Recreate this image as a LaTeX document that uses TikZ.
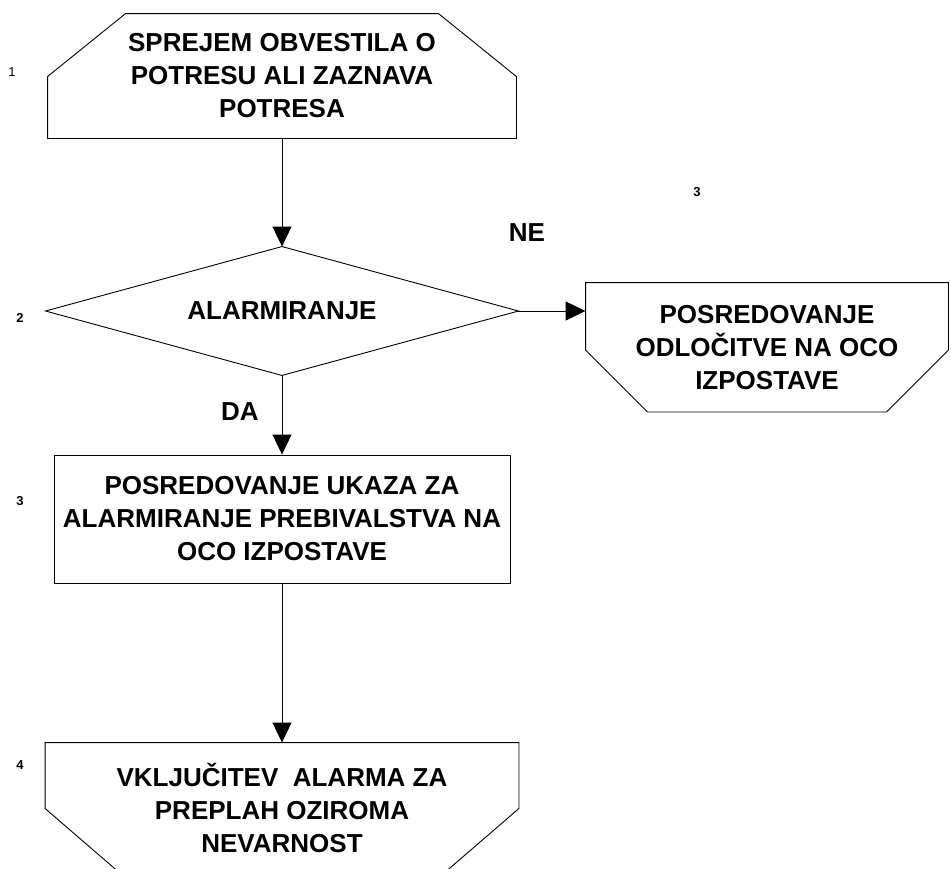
\documentclass[tikz,border=0pt]{standalone}
\usepackage{fontspec}
\setmainfont{Liberation Sans}
\usetikzlibrary{arrows.meta,calc}
\begin{document}
\begin{tikzpicture}[x=1pt,y=-1pt,line width=0.9pt,
  txt/.style={inner sep=0pt, align=center, font=\bfseries\fontsize{26}{33}\selectfont},
  lab/.style={inner sep=0pt, font=\bfseries\fontsize{13}{15}\selectfont},
  labthin/.style={inner sep=0pt, font=\fontsize{13}{15}\selectfont},
  arr/.style={-{Triangle[width=19pt,length=20pt]}}]
\useasboundingbox (0,0) rectangle (951,868);
\clip (0,0) rectangle (951,868);
% 1
\node[txt, minimum width=468pt, minimum height=126pt] (n1) at (282,76) {SPREJEM OBVESTILA O\\POTRESU ALI ZAZNAVA\\POTRESA};
\draw ($(n1.south west)+(0,-1)$) -- ($(n1.north west)+(0,64)$) -- ($(n1.north west)+(78,1)$) -- ($(n1.north east)+(-78,1)$) -- ($(n1.north east)+(0,64)$) -- ($(n1.south east)+(0,-1)$) -- cycle;
% 2
\node[txt, minimum width=472pt, minimum height=128pt] (d) at (282,311) {ALARMIRANJE};
\draw (d.west) -- (d.north) -- (d.east) -- (d.south) -- cycle;
% 3
\node[txt, draw, minimum width=456pt, minimum height=128pt] (r) at (282,519) {POSREDOVANJE UKAZA ZA\\ALARMIRANJE PREBIVALSTVA NA\\OCO IZPOSTAVE};
% right
\node[txt, minimum width=362pt, minimum height=127pt] (s) at (767,348) {POSREDOVANJE\\ODLOČITVE NA OCO\\IZPOSTAVE};
\draw ($(s.north west)+(0,-1.5)$) -- ($(s.north east)+(0,-1.5)$) -- ($(s.south east)+(0,-62)$) -- ($(s.south east)+(-62,0)$) -- ($(s.south west)+(62,0)$) -- ($(s.south west)+(0,-62)$) -- cycle;
% 4
\node[txt, minimum width=473pt, minimum height=126pt] (b) at (282,808) {VKLJUČITEV\ \ ALARMA ZA\\PREPLAH OZIROMA\\NEVARNOST};
\draw ($(b.north west)+(0,-2)$) -- ($(b.north east)+(0,-2)$) -- ($(b.south east)+(0,-63)$) -- ($(b.south east)+(-73,0)$) -- ($(b.south west)+(73,0)$) -- ($(b.south west)+(0,-63)$) -- cycle;
% connectors
\draw[arr] ($(n1.south)+(0,-1)$) -- (d.north);
\draw[arr] (d.east) -- (d.east -| s.west);
\draw[arr] (d.south) -- (r.north);
\draw[arr] (r.south) -- ($(b.north)+(0,-2)$);
% labels
\node[labthin] (l1) at (12,72) {1};
\node[lab] (l2) at (20,318) {2};
\node[lab] (l3) at (20,501) {3};
\node[lab] (l4) at (20,765) {4};
\node[lab] (l5) at (697,192) {3};
\node[txt] (ne) at (527,233) {NE};
\node[txt] (da) at (240,412) {DA};
\end{tikzpicture}
\end{document}
